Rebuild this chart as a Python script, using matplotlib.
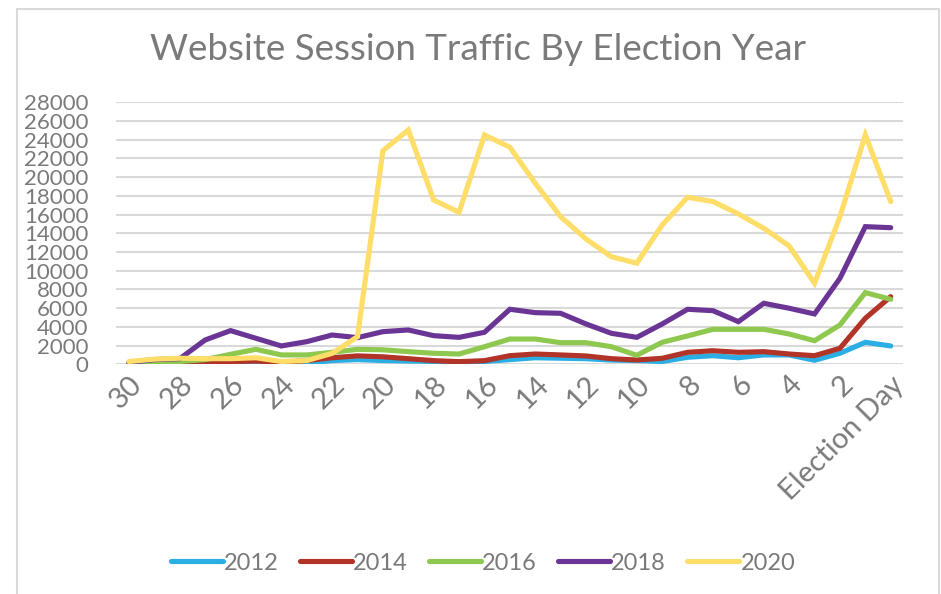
import matplotlib
matplotlib.use("Agg")
import matplotlib.pyplot as plt
from matplotlib.patches import Rectangle

days = ["30", "29", "28", "27", "26", "25", "24", "23", "22", "21", "20",
        "19", "18", "17", "16", "15", "14", "13", "12", "11", "10",
        "9", "8", "7", "6", "5", "4", "3", "2", "1", "Election Day"]

s2012 = [0, 50, 100, 100, 150, 200, 150, 100, 400, 500, 400,
         350, 300, 250, 300, 500, 700, 650, 600, 450, 400,
         300, 750, 920, 700, 1000, 1000, 430, 1180, 2350, 1960]
s2014 = [50, 100, 150, 200, 300, 350, 200, 400, 700, 900, 800,
         600, 390, 280, 390, 920, 1100, 1000, 890, 600, 460,
         640, 1280, 1450, 1280, 1350, 1100, 920, 1710, 4920, 7230]
s2016 = [100, 200, 300, 500, 1070, 1600, 1000, 1000, 1280, 1600, 1550,
         1350, 1180, 1100, 1880, 2700, 2700, 2310, 2310, 1880, 960,
         2350, 3030, 3740, 3740, 3740, 3240, 2520, 4200, 7660, 6950]
s2018 = [200, 500, 600, 2600, 3600, 2780, 1960, 2420, 3130, 2850, 3490,
         3670, 3060, 2880, 3420, 5880, 5520, 5450, 4310, 3310, 2880,
         4310, 5880, 5730, 4560, 6520, 5990, 5380, 9190, 14710, 14600]
s2020 = [300, 550, 650, 600, 600, 700, 300, 400, 1170, 2950, 22830,
         25040, 17560, 16250, 24510, 23200, 19350, 15780, 13390, 11500, 10800,
         14890, 17850, 17390, 16070, 14540, 12650, 8660, 15780, 24510, 17390]

series = [("2012", s2012, "#2aaee4"),
          ("2014", s2014, "#b23327"),
          ("2016", s2016, "#8fc84f"),
          ("2018", s2018, "#6a3595"),
          ("2020", s2020, "#fedd68")]

yticks = list(range(0, 28001, 2000))
text_color = "#7a7a7a"
font = ["Lato", "DejaVu Sans"]
plt.rcParams["font.family"] = font

W, H = 941, 594
fig = plt.figure(figsize=(W / 100, H / 100), dpi=100)
fig.patches.append(Rectangle((17 / W, -0.1), (939 - 17) / W, 1.1 - 9 / H,
                             transform=fig.transFigure, fill=False,
                             edgecolor="#d9d9d9", linewidth=1.5))

ax = fig.add_axes([116.3 / W, 1 - 364.3 / H, (903.4 - 116.3) / W, (364.3 - 102.3) / H])
x = list(range(len(days)))
for name, vals, col in series:
    ax.plot(x, vals, color=col, linewidth=3.7, label=name,
            solid_capstyle="round", solid_joinstyle="miter")

ax.set_xlim(-0.5, len(days) - 0.5)
ax.set_ylim(0, 28000)
ax.set_yticks(yticks)
ax.set_yticklabels([str(v) for v in yticks], fontsize=16, color=text_color)
ax.grid(axis="y", color="#d9d9d9", linewidth=1.5)
ax.set_axisbelow(True)
for sp in ax.spines.values():
    sp.set_visible(False)
ax.tick_params(axis="both", length=0)
ax.tick_params(axis="y", pad=20)

ax.set_xticks(x[::2])
ax.set_xticklabels(days[::2], rotation=45, ha="right", rotation_mode="anchor",
                   fontsize=21, color=text_color)
ax.tick_params(axis="x", pad=5)

fig.text(478 / W, 1 - 50 / H, "Website Session Traffic By Election Year",
         ha="center", va="center", fontsize=26.5, color=text_color)

fig.legend(loc="center", bbox_to_anchor=(483 / W, 1 - 563 / H), ncol=5,
           frameon=False, fontsize=17, labelcolor=text_color,
           handlelength=2.2, handletextpad=0.05, columnspacing=0.9)

fig.savefig("out.png", dpi=100)
